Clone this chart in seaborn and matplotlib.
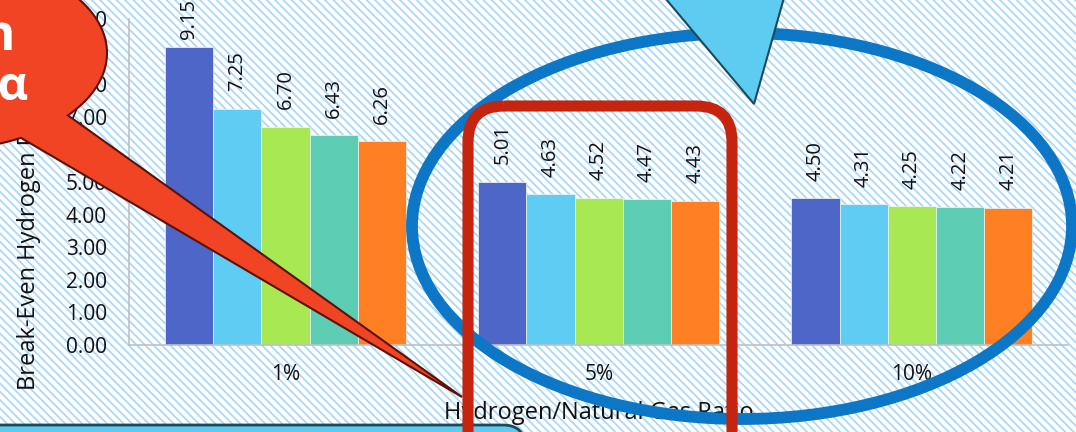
import numpy as np
import pandas as pd
import matplotlib
matplotlib.use("Agg")
import matplotlib.pyplot as plt
from matplotlib.patches import Rectangle, Ellipse, Polygon, FancyBboxPatch, PathPatch
from matplotlib.path import Path
import seaborn as sns

# ---- data ---------------------------------------------------------------
ratios = ["1%", "5%", "10%"]
series = ["S1", "S2", "S3", "S4", "S5"]
vals_1pct = [9.15, 7.25, 6.70, 6.43, 6.26]
vals_5pct = [5.01, 4.63, 4.52, 4.47, 4.43]
vals_10pct = [4.50, 4.31, 4.25, 4.22, 4.21]
y_ticks = [0, 1, 2, 3, 4, 5, 6, 7, 8, 9, 10]
bar_colors = ["#4f66c9", "#5fcdf3", "#a8e853", "#5ccdb2", "#fe8022"]

rows = []
for r, vals in zip(ratios, [vals_1pct, vals_5pct, vals_10pct]):
    for s, v in zip(series, vals):
        rows.append({"ratio": r, "series": s, "price": v})
df = pd.DataFrame(rows)

# ---- style --------------------------------------------------------------
sns.set_style("white")
plt.rcParams["font.family"] = ["Open Sans", "DejaVu Sans"]
plt.rcParams["hatch.linewidth"] = 1.3
plt.rcParams["hatch.color"] = "#abd8f6"

W, H = 1076, 432
fig = plt.figure(figsize=(W / 100, H / 100), dpi=100)

# striped page background
bg = fig.add_axes([0, 0, 1, 1], zorder=-5)
bg.set_axis_off()
bg.add_patch(Rectangle((0, 0), 1, 1, transform=bg.transAxes, facecolor="white",
                       edgecolor="#abd8f6", linewidth=0, hatch="\\\\\\\\"))

# ---- main chart ---------------------------------------------------------
ax_h = 345 - 19
ax = fig.add_axes([129 / W, 1 - 345 / H, (1068.5 - 129) / W, ax_h / H], zorder=1)
ax.set_facecolor("none")
sns.barplot(data=df, x="ratio", y="price", hue="series", order=ratios,
            hue_order=series, palette=bar_colors, width=0.77, saturation=1,
            edgecolor="#eef6fb", linewidth=0.5, legend=False, ax=ax, errorbar=None)

ax.set_xlim(-0.5, 2.5)
ax.set_ylim(0, 10)
ax.set_yticks(y_ticks)
ax.set_yticklabels([f"{t:.2f}" for t in y_ticks])
ax.tick_params(axis="both", length=0, labelsize=15, colors="#111111")
ax.tick_params(axis="y", pad=16)
ax.tick_params(axis="x", pad=14)
for side in ["top", "right"]:
    ax.spines[side].set_visible(False)
for side in ["left", "bottom"]:
    ax.spines[side].set_color("#c0c0c0")
    ax.spines[side].set_linewidth(1.2)
ax.set_xlabel("Hydrogen/Natural Gas Ratio", fontsize=17, color="#111111", va="center")
ax.xaxis.set_label_coords(0.5, -(413 - 345) / ax_h)
ax.set_ylabel("")

# value labels above each bar (kept inside the plot top)
for cont in ax.containers:
    for patch, val in zip(cont.patches, cont.datavalues):
        cx = patch.get_x() + patch.get_width() / 2
        ax.text(cx, min(val + 0.53, 9.40), f"{val:.2f}", rotation=90,
                ha="center", va="bottom", fontsize=14.5, color="#111111")

# y-axis title, drawn beneath the annotation layer
fig.text(29 / W, 1 - 390 / H, "Break-Even Hydrogen Price ($/kg)", rotation=90,
         ha="center", va="bottom", fontsize=17, color="#111111", zorder=1)

# ---- annotation shapes --------------------------------------------------
ov = fig.add_axes([0, 0, 1, 1], zorder=3)
ov.set_xlim(0, W)
ov.set_ylim(H, 0)
ov.set_axis_off()
ov.patch.set_alpha(0)

# highlight ellipse around the 5% and 10% groups
ov.add_patch(Ellipse((742, 226), 660, 386, fill=False, edgecolor="#0d77c7", linewidth=8.5))

# downward pointer at the top
ov.add_patch(Polygon([(650, -20), (789, -20), (754, 104)], closed=True,
                     facecolor="#5ecbf1", edgecolor="#1d4a5a", linewidth=1.5))

# red speech bubble with long tail
ecx, ecy, erx, ery = -60, 53, 167, 97
t = np.radians(np.linspace(61, 400, 200))
pts = list(zip(ecx + erx * np.cos(t), ecy + ery * np.sin(t)))
pts.append((462, 397))
pts.append(pts[0])
codes = [Path.MOVETO] + [Path.LINETO] * (len(pts) - 2) + [Path.CLOSEPOLY]
ov.add_patch(PathPatch(Path(pts, codes), facecolor="#f04424", edgecolor="#5c1208",
                       linewidth=1.5))
ov.text(16, 50, "Optimization", ha="right", va="baseline", fontsize=36,
        fontweight="bold", color="white")
ov.text(28, 100, "β = α", ha="right", va="baseline", fontsize=34,
        fontweight="bold", color="white")

# caption box at the bottom left
ov.add_patch(FancyBboxPatch((-40, 425), 565, 60, boxstyle="round,pad=0,rounding_size=22",
                            facecolor="#5ecbf1", edgecolor="#1d4a5a", linewidth=2))

# rounded frame around the 5% group
ov.add_patch(FancyBboxPatch((468, 106), 264, 400, boxstyle="round,pad=0,rounding_size=36",
                            fill=False, edgecolor="#c5250e", linewidth=8))

fig.savefig("out.png", dpi=100)
